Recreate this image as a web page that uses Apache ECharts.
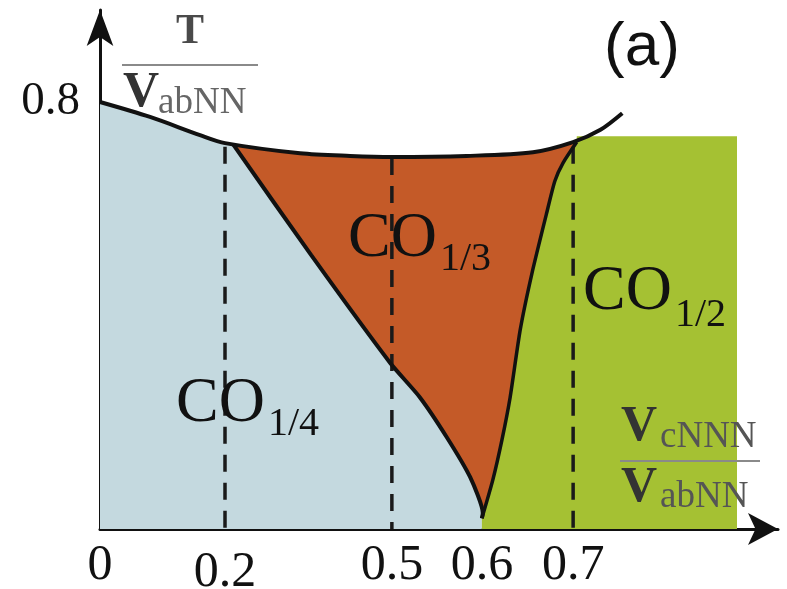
<!DOCTYPE html>
<html>
<head>
<meta charset="utf-8">
<script src="https://cdn.jsdelivr.net/npm/echarts@6/dist/echarts.min.js"></script>
<style>
  html, body { margin: 0; padding: 0; background: #ffffff; }
  #chart { width: 787px; height: 589px; }
</style>
</head>
<body>
<div id="chart"></div>
<script>
// ---- data: phase diagram in the (V_cNNN / V_abNN, T / V_abNN) plane ----
const xTicks = [0, 0.2, 0.5, 0.6, 0.7];
const yTicks = [0.8];

// upper transition line (ordered phase -> disordered)
const boundaryX = [0, 0.08, 0.16, 0.2, 0.335, 0.425, 0.5, 0.583, 0.656, 0.7, 0.73, 0.754];
const boundaryT = [0.8, 0.772, 0.738, 0.723, 0.704, 0.699, 0.697, 0.699, 0.706, 0.725, 0.748, 0.779];

// CO1/4 | CO1/3 boundary, from the top vertex down to the bottom vertex
const leftEdgeX = [0.215, 0.355, 0.497, 0.531, 0.561, 0.587, 0.601, 0.6];
const leftEdgeT = [0.72, 0.513, 0.311, 0.247, 0.172, 0.097, 0.03, 0.02];

// CO1/3 | CO1/2 boundary, from the top vertex down to the bottom vertex
const rightEdgeX = [0.704, 0.689, 0.68, 0.671, 0.655, 0.642, 0.631, 0.622, 0.612, 0.6];
const rightEdgeT = [0.725, 0.686, 0.652, 0.592, 0.48, 0.373, 0.247, 0.167, 0.092, 0.02];

// extent of the CO1/2 region
const co12Right = 0.88;
const co12Top = 0.736;

// dashed guides at selected couplings
const guideX = [0.2, 0.5, 0.7];
const guideTop = [0.716, 0.695, 0.716];

// ---- schematic abscissa: piecewise linear between the labelled couplings ----
const X_KNOTS = [0, 0.2, 0.5, 0.6, 0.7, 1.0];
const X_AXIS = [0, 0.2, 0.467, 0.611, 0.757, 1.194];
function warpX(v) {
  for (let i = 1; i < X_KNOTS.length; i++) {
    if (v <= X_KNOTS[i] || i === X_KNOTS.length - 1) {
      const t = (v - X_KNOTS[i - 1]) / (X_KNOTS[i] - X_KNOTS[i - 1]);
      return X_AXIS[i - 1] + t * (X_AXIS[i] - X_AXIS[i - 1]);
    }
  }
  return v;
}

const pts = (xs, ts) => xs.map((x, i) => [x, ts[i]]);
const boundary = pts(boundaryX, boundaryT);
const leftEdge = pts(leftEdgeX, leftEdgeT);
const rightEdge = pts(rightEdgeX, rightEdgeT);
const topL = leftEdge[0];
const topR = rightEdge[0];
const bottom = leftEdge[leftEdge.length - 1];

const co14Poly = [[0, 0]]
  .concat(boundary.filter(p => p[0] < topL[0]))
  .concat(leftEdge)
  .concat([[bottom[0], 0]]);
const co13Poly = [topL]
  .concat(boundary.filter(p => p[0] > topL[0] && p[0] < topR[0]))
  .concat(rightEdge)
  .concat(leftEdge.slice(1, -1).reverse());
const co12Poly = [[bottom[0], 0]]
  .concat(rightEdge.slice().reverse())
  .concat([[topR[0], co12Top], [co12Right, co12Top], [co12Right, 0]]);

const toAxis = p => [warpX(p[0]), p[1]];

function regionSeries(poly, color) {
  const data = poly.map(toAxis);
  return {
    type: 'custom',
    coordinateSystem: 'cartesian2d',
    silent: true,
    z: 1,
    clip: false,
    data: data,
    renderItem(params, api) {
      if (params.dataIndex !== 0) return null;
      return {
        type: 'polygon',
        shape: { points: data.map(p => api.coord(p)) },
        style: { fill: color }
      };
    }
  };
}

function curveSeries(points, width, smooth) {
  return {
    type: 'line',
    data: points.map(toAxis),
    smooth: smooth,
    symbol: 'none',
    silent: true,
    z: 4,
    clip: false,
    lineStyle: { color: '#111111', width: width }
  };
}

const guideSeries = guideX.map((x, i) => ({
  type: 'line',
  data: [[warpX(x), guideTop[i]], [warpX(x), 0]],
  symbol: 'none',
  silent: true,
  z: 3,
  lineStyle: { color: '#1a1a1a', width: 3.5, type: [17, 11] }
}));

const serif = '"Liberation Serif", "DejaVu Serif", serif';
const sans = '"Liberation Sans", Arial, sans-serif';

function txt(x, y, text, font, fill, align) {
  return {
    type: 'text', x: x, y: y, z: 10,
    style: {
      text: text, font: font, fill: fill,
      align: align || 'left', textAlign: align || 'left',
      verticalAlign: 'middle', textVerticalAlign: 'middle'
    }
  };
}
function rule(x1, x2, y) {
  return {
    type: 'line', z: 10,
    shape: { x1: x1, y1: y, x2: x2, y2: y },
    style: { stroke: '#8a8a8a', lineWidth: 2 }
  };
}

const chart = echarts.init(document.getElementById('chart'), null, { renderer: 'canvas' });

chart.setOption({
  animation: false,
  backgroundColor: '#ffffff',
  grid: { left: 100, right: 9, top: 10, bottom: 60, containLabel: false, outerBoundsMode: 'none' },
  xAxis: {
    type: 'value',
    min: 0,
    max: 1.0848,
    splitLine: { show: false },
    axisTick: { show: false },
    axisLine: {
      show: true,
      onZero: false,
      symbol: ['none', 'arrow'],
      symbolSize: [24, 30],
      lineStyle: { color: '#111111', width: 3 }
    },
    axisLabel: {
      customValues: xTicks.map(warpX),
      margin: 12,
      color: '#111111',
      fontFamily: serif,
      fontSize: 50,
      formatter: function (v) {
        let best = xTicks[0];
        xTicks.forEach(t => { if (Math.abs(warpX(t) - v) < Math.abs(warpX(best) - v)) best = t; });
        const s = String(best);
        return best === 0.2 ? '{lo|' + s + '}' : s;
      },
      rich: { lo: { fontFamily: serif, fontSize: 50, color: '#111111', padding: [7, 0, 0, 0] } }
    }
  },
  yAxis: {
    type: 'value',
    min: 0,
    max: 0.9724,
    splitLine: { show: false },
    axisTick: { show: false },
    axisLine: {
      show: true,
      onZero: false,
      symbol: ['none', 'arrow'],
      symbolSize: [20, 36],
      lineStyle: { color: '#111111', width: 3 }
    },
    axisLabel: {
      customValues: yTicks,
      margin: 20,
      color: '#111111',
      fontFamily: serif,
      fontSize: 47,
      formatter: v => String(v)
    }
  },
  series: [
    regionSeries(co14Poly, '#c4d9df'),
    regionSeries(co13Poly, '#c45a28'),
    regionSeries(co12Poly, '#a5c133'),
    ...guideSeries,
    curveSeries(boundary, 4, 0.3),
    curveSeries(leftEdge, 4, 0.2),
    curveSeries(rightEdge, 3.5, 0.2)
  ],
  graphic: [
    // ordinate title T / V_abNN
    txt(190, 32, 'T', 'bold 42px ' + serif, '#4a4a4a', 'center'),
    rule(122, 258, 65),
    txt(123, 93, 'V', 'bold 50px ' + serif, '#333333'),
    txt(158, 103, 'abNN', '37px ' + serif, '#666666'),
    // abscissa title V_cNNN / V_abNN
    txt(621, 427, 'V', 'bold 50px ' + serif, '#333333'),
    txt(660, 437, 'cNNN', '37px ' + serif, '#555555'),
    rule(620, 760, 461),
    txt(621, 488, 'V', 'bold 50px ' + serif, '#333333'),
    txt(660, 497, 'abNN', '37px ' + serif, '#555555'),
    // panel tag
    txt(642, 48, '(a)', '62px ' + sans, '#111111', 'center'),
    // phase names
    txt(348, 239, 'CO', '64px ' + serif, '#111111'),
    txt(440, 259, '1/3', '40px ' + serif, '#111111'),
    txt(583, 292, 'CO', '64px ' + serif, '#111111'),
    txt(675, 315, '1/2', '40px ' + serif, '#111111'),
    txt(176, 404, 'CO', '64px ' + serif, '#111111'),
    txt(268, 424, '1/4', '40px ' + serif, '#111111')
  ]
});
</script>
</body>
</html>
